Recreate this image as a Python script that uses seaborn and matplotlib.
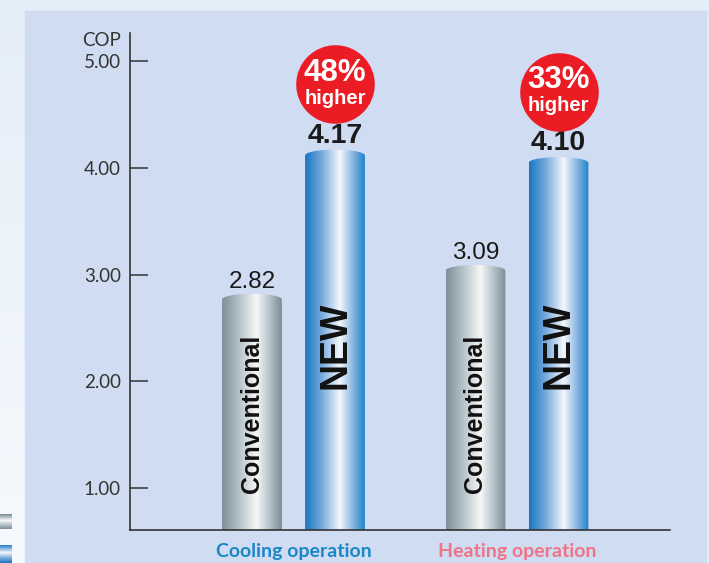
import numpy as np
import pandas as pd
import matplotlib
matplotlib.use("Agg")
import matplotlib.pyplot as plt
from matplotlib.colors import LinearSegmentedColormap
from matplotlib.path import Path
from matplotlib.patches import PathPatch, Rectangle
import seaborn as sns

# Daten
operations = ["Cooling operation", "Heating operation"]
conventional = [2.82, 3.09]
new = [4.17, 4.10]
increase = ["48%", "33%"]
yticks = [1.0, 2.0, 3.0, 4.0, 5.0]
ytick_labels = ["1.00", "2.00", "3.00", "4.00", "5.00"]
op_colors = ["#1b86c8", "#f07487"]

df = pd.DataFrame({
    "operation": operations * 2,
    "type": ["Conventional"] * 2 + ["NEW"] * 2,
    "cop": conventional + new,
})

sns.set_style("white")
plt.rcParams["font.family"] = ["Liberation Sans", "DejaVu Sans"]

W, H = 709, 563
fig = plt.figure(figsize=(W / 100, H / 100), dpi=100)
fig.patch.set_facecolor("#e4eef8")

# Hintergrund (Pixel-Koordinaten)
bg = fig.add_axes([0, 0, 1, 1], zorder=-10)
bg.set_xlim(0, W)
bg.set_ylim(H, 0)
bg.set_axis_off()
grad_v = np.linspace(0, 1, 100).reshape(-1, 1)
strip = LinearSegmentedColormap.from_list("strip", ["#e4eef8", "#f6f9fd"])
bg.imshow(grad_v, cmap=strip, extent=[0, 25, H, 0], aspect="auto")
bg.add_patch(Rectangle((25, 11), 681, H - 11, color="#cfdcf1"))

grey_cmap = LinearSegmentedColormap.from_list(
    "grey", [(0, "#7c8e97"), (0.3, "#b9c5cb"), (0.58, "#f6f8f9"), (0.8, "#b3c0c6"), (1, "#7b8c95")])
blue_cmap = LinearSegmentedColormap.from_list(
    "blue", [(0, "#1676c3"), (0.28, "#78aadc"), (0.58, "#f4f7fc"), (0.82, "#80b1de"), (1, "#1c83cc")])

# kleine Legendenfelder links unten (abgeschnitten)
bg.imshow(grad_v[::-1], cmap=grey_cmap, extent=[0, 12, 529, 514], aspect="auto")
bg.imshow(grad_v[::-1], cmap=blue_cmap, extent=[0, 12, 563, 545], aspect="auto")

# Diagramm
ax = fig.add_axes([130 / W, 33 / H, 540 / W, 497 / H])
sns.barplot(data=df, x="operation", y="cop", hue="type", width=0.743, gap=0.28,
            legend=False, ax=ax, palette=["#b0bcc2", "#5d9ad6"])
ax.patch.set_visible(False)

y0, y1 = 0.607, 5.262
grad_h = np.linspace(0, 1, 256).reshape(1, -1)
cap = 0.055

for cont, cmap, label, lsize in zip(ax.containers, [grey_cmap, blue_cmap],
                                    ["Conventional", "NEW"], [18, 27]):
    for i, p in enumerate(cont.patches):
        x0, w, h = p.get_x(), p.get_width(), p.get_height()
        p.set_facecolor("none")
        p.set_edgecolor("none")
        t = np.linspace(0, np.pi, 40)
        verts = [(x0, 0), (x0, h - cap)]
        verts += list(zip(x0 + w / 2 - (w / 2) * np.cos(t), h - cap + cap * np.sin(t)))
        verts += [(x0 + w, 0), (x0, 0)]
        codes = [Path.MOVETO] + [Path.LINETO] * (len(verts) - 2) + [Path.CLOSEPOLY]
        clip = PathPatch(Path(verts, codes), transform=ax.transData, facecolor="none", edgecolor="none")
        im = ax.imshow(grad_h, cmap=cmap, extent=[x0, x0 + w, 0, h], aspect="auto", zorder=2)
        im.set_clip_path(clip)

        xc = x0 + w / 2
        if label == "NEW":
            ax.text(xc, 2.34, label, rotation=90, ha="center", va="center",
                    fontsize=lsize, fontweight="bold", color="#111111", zorder=3)
            ax.annotate(f"{h:.2f}", (xc, h), xytext=(0, 10), textcoords="offset points",
                        ha="center", va="center", fontsize=20.5, fontweight="bold", color="#1a1a1a", zorder=3)
            ax.scatter([xc], [h + 0.61], s=3200, color="#ec1c24", zorder=3, clip_on=False, linewidths=0)
            ax.annotate(increase[i], (xc, h + 0.61), xytext=(0, 8.5), textcoords="offset points",
                        ha="center", va="center", fontsize=22.5, fontweight="bold", color="white", zorder=4)
            ax.annotate("higher", (xc, h + 0.61), xytext=(0, -10), textcoords="offset points",
                        ha="center", va="center", fontsize=14.5, fontweight="bold", color="white", zorder=4)
        else:
            ax.text(xc, 1.69, label, rotation=90, ha="center", va="center",
                    fontsize=lsize, fontweight="bold", color="#111111", zorder=3)
            ax.annotate(f"{h:.2f}", (xc, h), xytext=(0, 8.5), textcoords="offset points",
                        ha="center", va="center", fontsize=17.5, color="#1a1a1a", zorder=3)

ax.set_xlim(-0.7315, 1.6846)
ax.set_ylim(y0, y1)

sns.despine(ax=ax)
for s in ["left", "bottom"]:
    ax.spines[s].set_color("#333333")
    ax.spines[s].set_linewidth(1.2)

ax.set_yticks(yticks)
ax.set_yticklabels(ytick_labels, family="Lato", fontsize=13.5, color="#333333")
ax.tick_params(axis="y", direction="in", length=13, width=1.1, color="#333333", pad=6.5, left=True)
ax.tick_params(axis="x", length=0, pad=9)
ax.set_xticks([0, 1])
ax.set_xticklabels(operations, family="Lato", fontweight="bold", fontsize=14)
for lab, c in zip(ax.get_xticklabels(), op_colors):
    lab.set_color(c)
ax.set_xlabel("")
ax.set_ylabel("")

fig.text(121 / W, 1 - 40 / H, "COP", family="Lato", fontsize=13.5, color="#333333",
         ha="right", va="center")

fig.savefig("out.png", dpi=100, facecolor=fig.get_facecolor())
